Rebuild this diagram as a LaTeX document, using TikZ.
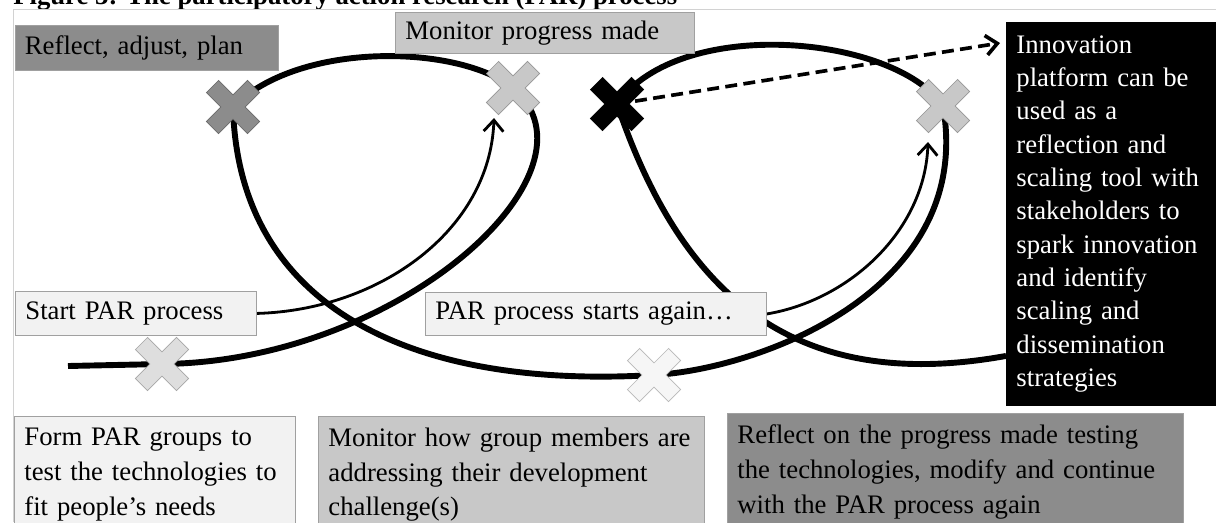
\documentclass[tikz,border=0pt]{standalone}
\usepackage{fontspec}
\setmainfont{Liberation Serif}
\usetikzlibrary{arrows.meta, backgrounds}
\definecolor{darkshade}{HTML}{8C8C8C}
\definecolor{midshade}{HTML}{C8C8C8}
\definecolor{paleshade}{HTML}{DEDEDE}
\definecolor{lightshade}{HTML}{F2F2F2}
\definecolor{whiteshade}{HTML}{F6F6F6}
\definecolor{edgegray}{HTML}{A0A0A0}
\tikzstyle{textbox} = [rectangle, anchor=north west, draw=edgegray, line width=0.6pt, inner xsep=0.25cm, inner ysep=0pt, align=left, font=\fontsize{19}{23.7}\selectfont]
\tikzstyle{notebox} = [textbox, inner ysep=0.28cm, font=\fontsize{19}{24.8}\selectfont]
\tikzstyle{thickpath} = [line width=4.2pt]
\tikzstyle{arrow} = [line width=2pt, -{Straight Barb[length=8pt, width=14pt]}]
\tikzstyle{dasharrow} = [line width=2.6pt, dash pattern=on 8.5pt off 4.5pt, -{Straight Barb[length=8pt, width=14pt]}]
\tikzset{xmark/.pic={\filldraw[fill=#1, draw=#1!75!black, line width=0.5pt, rotate=45] (8.5,8.5) -- (8.5,29) -- (-8.5,29) -- (-8.5,8.5) -- (-29,8.5) -- (-29,-8.5) -- (-8.5,-8.5) -- (-8.5,-29) -- (8.5,-29) -- (8.5,-8.5) -- (29,-8.5) -- (29,8.5) -- cycle;}}

\begin{document}
\begin{tikzpicture}[x=0.025cm, y=-0.025cm]

\useasboundingbox (0,0) rectangle (1216,522);

\node (title) [anchor=base west, inner sep=0pt, font=\bfseries\fontsize{19}{23}\selectfont] at (13,4) {Figure 3: The participatory action research (PAR) process};
\draw [gray!35, line width=0.6pt] (13,522) -- (13,9) -- (1216,9);

\node (reflect) [textbox, fill=darkshade, minimum height=1.125cm, text width=6.0875cm] at (14.5,25) {Reflect, adjust, plan};
\node (monitor) [textbox, fill=midshade, minimum height=1.025cm, text width=6.975cm] at (395,12) {Monitor progress made};
\node (start) [textbox, fill=lightshade, minimum height=1.1cm, text width=5.525cm] at (15,291) {Start PAR process};
\node (again) [textbox, fill=lightshade, minimum height=1.075cm, text width=8.025cm] at (425,292) {PAR process starts again…};
\node (platform) [textbox, fill=black, text=white, draw=none, minimum height=9.575cm, text width=4.75cm] at (1006,22) {Innovation\\platform can be\\used as a\\reflection and\\scaling tool with\\stakeholders to\\spark innovation\\and identify\\scaling and\\dissemination\\strategies};

\node (form) [notebox, fill=lightshade, text width=6.525cm] at (14,416) {Form PAR groups to\\test the technologies to\\fit people’s needs};
\node (track) [notebox, fill=midshade, text width=9.15cm] at (318,416) {Monitor how group members are\\addressing their development\\challenge(s)};
\node (revise) [notebox, fill=darkshade, text width=10.9cm] at (727,413) {Reflect on the progress made testing\\the technologies, modify and continue\\with the PAR process again};

\coordinate (begin) at (68,366);
\coordinate (xStart) at (162,364);
\coordinate (xRef) at (233,107);
\coordinate (xMon) at (513,88);
\coordinate (xInno) at (617,104);
\coordinate (xRight) at (943,106);
\coordinate (xAgain) at (654,375);

\begin{scope}[on background layer]
\fill [white] (0,0) rectangle (1216,522);
\draw [thickpath] (begin) -- (xStart) .. controls (400,362) and (610,170) .. (xMon);
\draw [thickpath] (xMon) .. controls (460,45) and (300,40) .. (xRef);
\draw [thickpath] (xRef) .. controls (238,300) and (400,390) .. (xAgain) .. controls (760,369) and (975,290) .. (xRight);
\draw [thickpath] (xRight) .. controls (895,35) and (680,15) .. (xInno);
\draw [thickpath] (xInno) .. controls (680,290) and (790,395) .. ([yshift=1.25cm]platform.south west);
\draw [dasharrow] (xInno) -- ([xshift=-0.15cm, yshift=-0.525cm]platform.north west);
\draw [arrow] (start.east) .. controls (380,310) and (490,230) .. ([xshift=-0.475cm, yshift=-0.75cm]xMon);
\draw [arrow] (again.east) .. controls (850,300) and (925,230) .. ([xshift=-0.375cm, yshift=-0.9cm]xRight);
\end{scope}

\pic at (xStart) {xmark=paleshade};
\pic at (xRef) {xmark=darkshade};
\pic at (xMon) {xmark=midshade};
\pic at (xInno) {xmark=black};
\pic at (xRight) {xmark=midshade};
\pic at (xAgain) {xmark=whiteshade};

\end{tikzpicture}
\end{document}
